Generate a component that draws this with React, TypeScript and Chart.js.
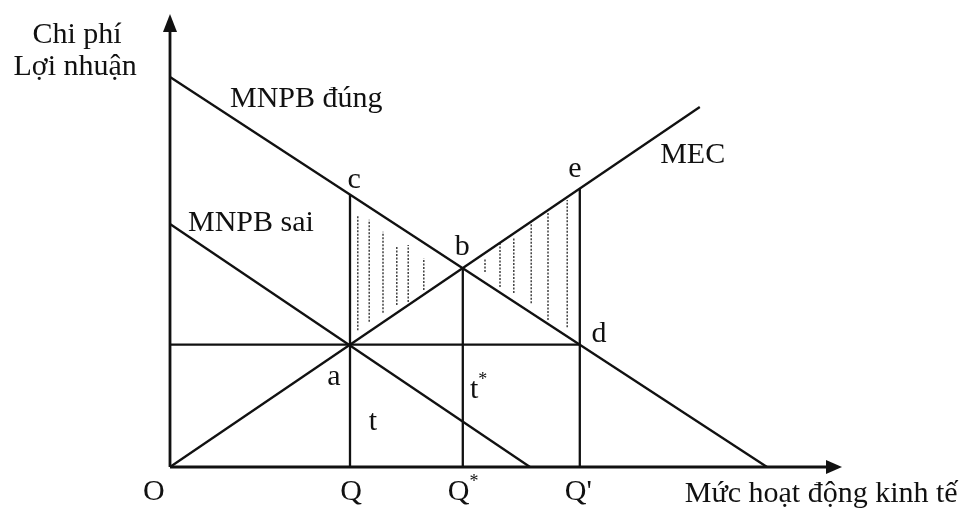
import React, { useEffect, useRef } from "react";
import { Chart, registerables } from "chart.js";

Chart.register(...registerables);

// Axis extents (data units)
const X_MAX = 11.2;
const Y_MAX = 7.55;

// Curves (endpoints in data units)
const MNPB_DUNG_X = [0, 9.95];
const MNPB_DUNG_Y = [6.5, 0];
const MNPB_SAI_X = [0, 6.0];
const MNPB_SAI_Y = [4.05, 0];
const MEC_X = [0, 8.83];
const MEC_Y = [0, 6.0];

// Key quantities
const Q_LEVELS = [3.0, 4.88, 6.83]; // Q, Q*, Q'
const Q_TOPS = [4.54, 3.32, 4.64]; // c, b, e
const T_LEVEL = 2.04; // horizontal line a–d
const T_END = 6.83;

// Hatching segments (x, top, bottom)
const HATCH_X = [3.13, 3.32, 3.55, 3.78, 3.97, 4.23, 5.25, 5.5, 5.73, 6.02, 6.3, 6.62];
const HATCH_TOP = [4.2, 4.12, 3.92, 3.67, 3.7, 3.48, 3.48, 3.75, 3.82, 4.08, 4.25, 4.45];
const HATCH_BOTTOM = [2.28, 2.42, 2.57, 2.7, 2.75, 2.95, 3.25, 3.0, 2.9, 2.73, 2.45, 2.33];

// Text labels
const LABEL_TEXT = ["Chi phí", "Lợi nhuận", "MNPB đúng", "MNPB sai", "MEC", "c", "b", "e", "d", "a", "t", "t", "O", "Q", "Q", "Q'", "Mức hoạt động kinh tế"];
const LABEL_SUP = ["", "", "", "", "", "", "", "", "", "", "", "*", "", "", "*", "", ""];
const LABEL_X = [-1.55, -1.58, 1.0, 0.3, 8.17, 3.07, 4.87, 6.75, 7.15, 2.73, 3.38, 5.0, -0.27, 3.02, 4.63, 6.58, 8.58];
const LABEL_Y = [7.07, 6.53, 6.0, 3.93, 5.07, 4.65, 3.53, 4.83, 2.08, 1.37, 0.62, 1.15, -0.55, -0.55, -0.55, -0.55, -0.58];
const LABEL_ALIGN = ["center", "center", "left", "left", "left", "center", "center", "center", "center", "center", "center", "left", "center", "center", "left", "left", "left"];

const INK = "#111111";
const FONT = "30px 'Liberation Serif', 'DejaVu Serif', serif";
const SUP_FONT = "18px 'Liberation Serif', 'DejaVu Serif', serif";

function seg(xs: number[], ys: number[]) {
  return xs.map((x, i) => ({ x, y: ys[i] }));
}

const overlayPlugin = {
  id: "overlay",
  afterDatasetsDraw(chart: any) {
    const ctx = chart.ctx as CanvasRenderingContext2D;
    const xs = chart.scales.x;
    const ys = chart.scales.y;
    ctx.save();
    ctx.fillStyle = INK;
    // arrowheads
    const ox = xs.getPixelForValue(0);
    const oy = ys.getPixelForValue(0);
    const tx = xs.getPixelForValue(X_MAX);
    const ty = ys.getPixelForValue(Y_MAX);
    ctx.beginPath();
    ctx.moveTo(ox, ty);
    ctx.lineTo(ox - 7, ty + 18);
    ctx.lineTo(ox + 7, ty + 18);
    ctx.closePath();
    ctx.fill();
    ctx.beginPath();
    ctx.moveTo(tx, oy);
    ctx.lineTo(tx - 16, oy - 7);
    ctx.lineTo(tx - 16, oy + 7);
    ctx.closePath();
    ctx.fill();
    // labels
    ctx.textBaseline = "alphabetic";
    LABEL_TEXT.forEach((t, i) => {
      const px = xs.getPixelForValue(LABEL_X[i]);
      const py = ys.getPixelForValue(LABEL_Y[i]);
      ctx.font = FONT;
      ctx.textAlign = LABEL_ALIGN[i] as CanvasTextAlign;
      ctx.fillText(t, px, py);
      if (LABEL_SUP[i]) {
        const w = ctx.measureText(t).width;
        const right = LABEL_ALIGN[i] === "left" ? px + w : px + w / 2;
        ctx.font = SUP_FONT;
        ctx.textAlign = "left";
        ctx.fillText(LABEL_SUP[i], right, py - 13);
      }
    });
    ctx.restore();
  },
};

export default function App() {
  const ref = useRef<HTMLCanvasElement | null>(null);
  useEffect(() => {
    if (!ref.current) return;
    const line = (data: any[], width = 2, extra: any = {}) => ({
      data,
      showLine: true,
      borderColor: INK,
      borderWidth: width,
      pointRadius: 0,
      fill: false,
      clip: false,
      ...extra,
    });
    const datasets: any[] = [
      line(seg([0, 0], [0, Y_MAX - 0.2]), 2.8),
      line(seg([0, X_MAX - 0.2], [0, 0]), 2.8),
      line(seg(MNPB_DUNG_X, MNPB_DUNG_Y), 2.3),
      line(seg(MNPB_SAI_X, MNPB_SAI_Y), 2.3),
      line(seg(MEC_X, MEC_Y), 2.3),
      line(seg([0, T_END], [T_LEVEL, T_LEVEL]), 2.3),
      ...Q_LEVELS.map((q, i) => line(seg([q, q], [0, Q_TOPS[i]]), 2.3)),
      ...HATCH_X.map((hx, i) =>
        line(seg([hx, hx], [HATCH_BOTTOM[i], HATCH_TOP[i]]), 1.4, {
          borderColor: "#333333",
          borderDash: [2, 1.5],
        })
      ),
    ];
    const chart = new Chart(ref.current, {
      type: "scatter",
      data: { datasets },
      options: {
        animation: false,
        responsive: false,
        events: [],
        layout: { padding: { left: 170, right: 122, top: 14, bottom: 45 } },
        plugins: { legend: { display: false }, tooltip: { enabled: false } },
        scales: {
          x: { type: "linear", min: 0, max: X_MAX, display: false },
          y: { type: "linear", min: 0, max: Y_MAX, display: false },
        },
      },
      plugins: [overlayPlugin],
    });
    return () => chart.destroy();
  }, []);
  return (
    <div style={{ position: "fixed", left: 0, top: 0, width: 964, height: 512, background: "#ffffff" }}>
      <canvas ref={ref} width={964} height={512} style={{ width: 964, height: 512, display: "block" }} />
    </div>
  );
}
